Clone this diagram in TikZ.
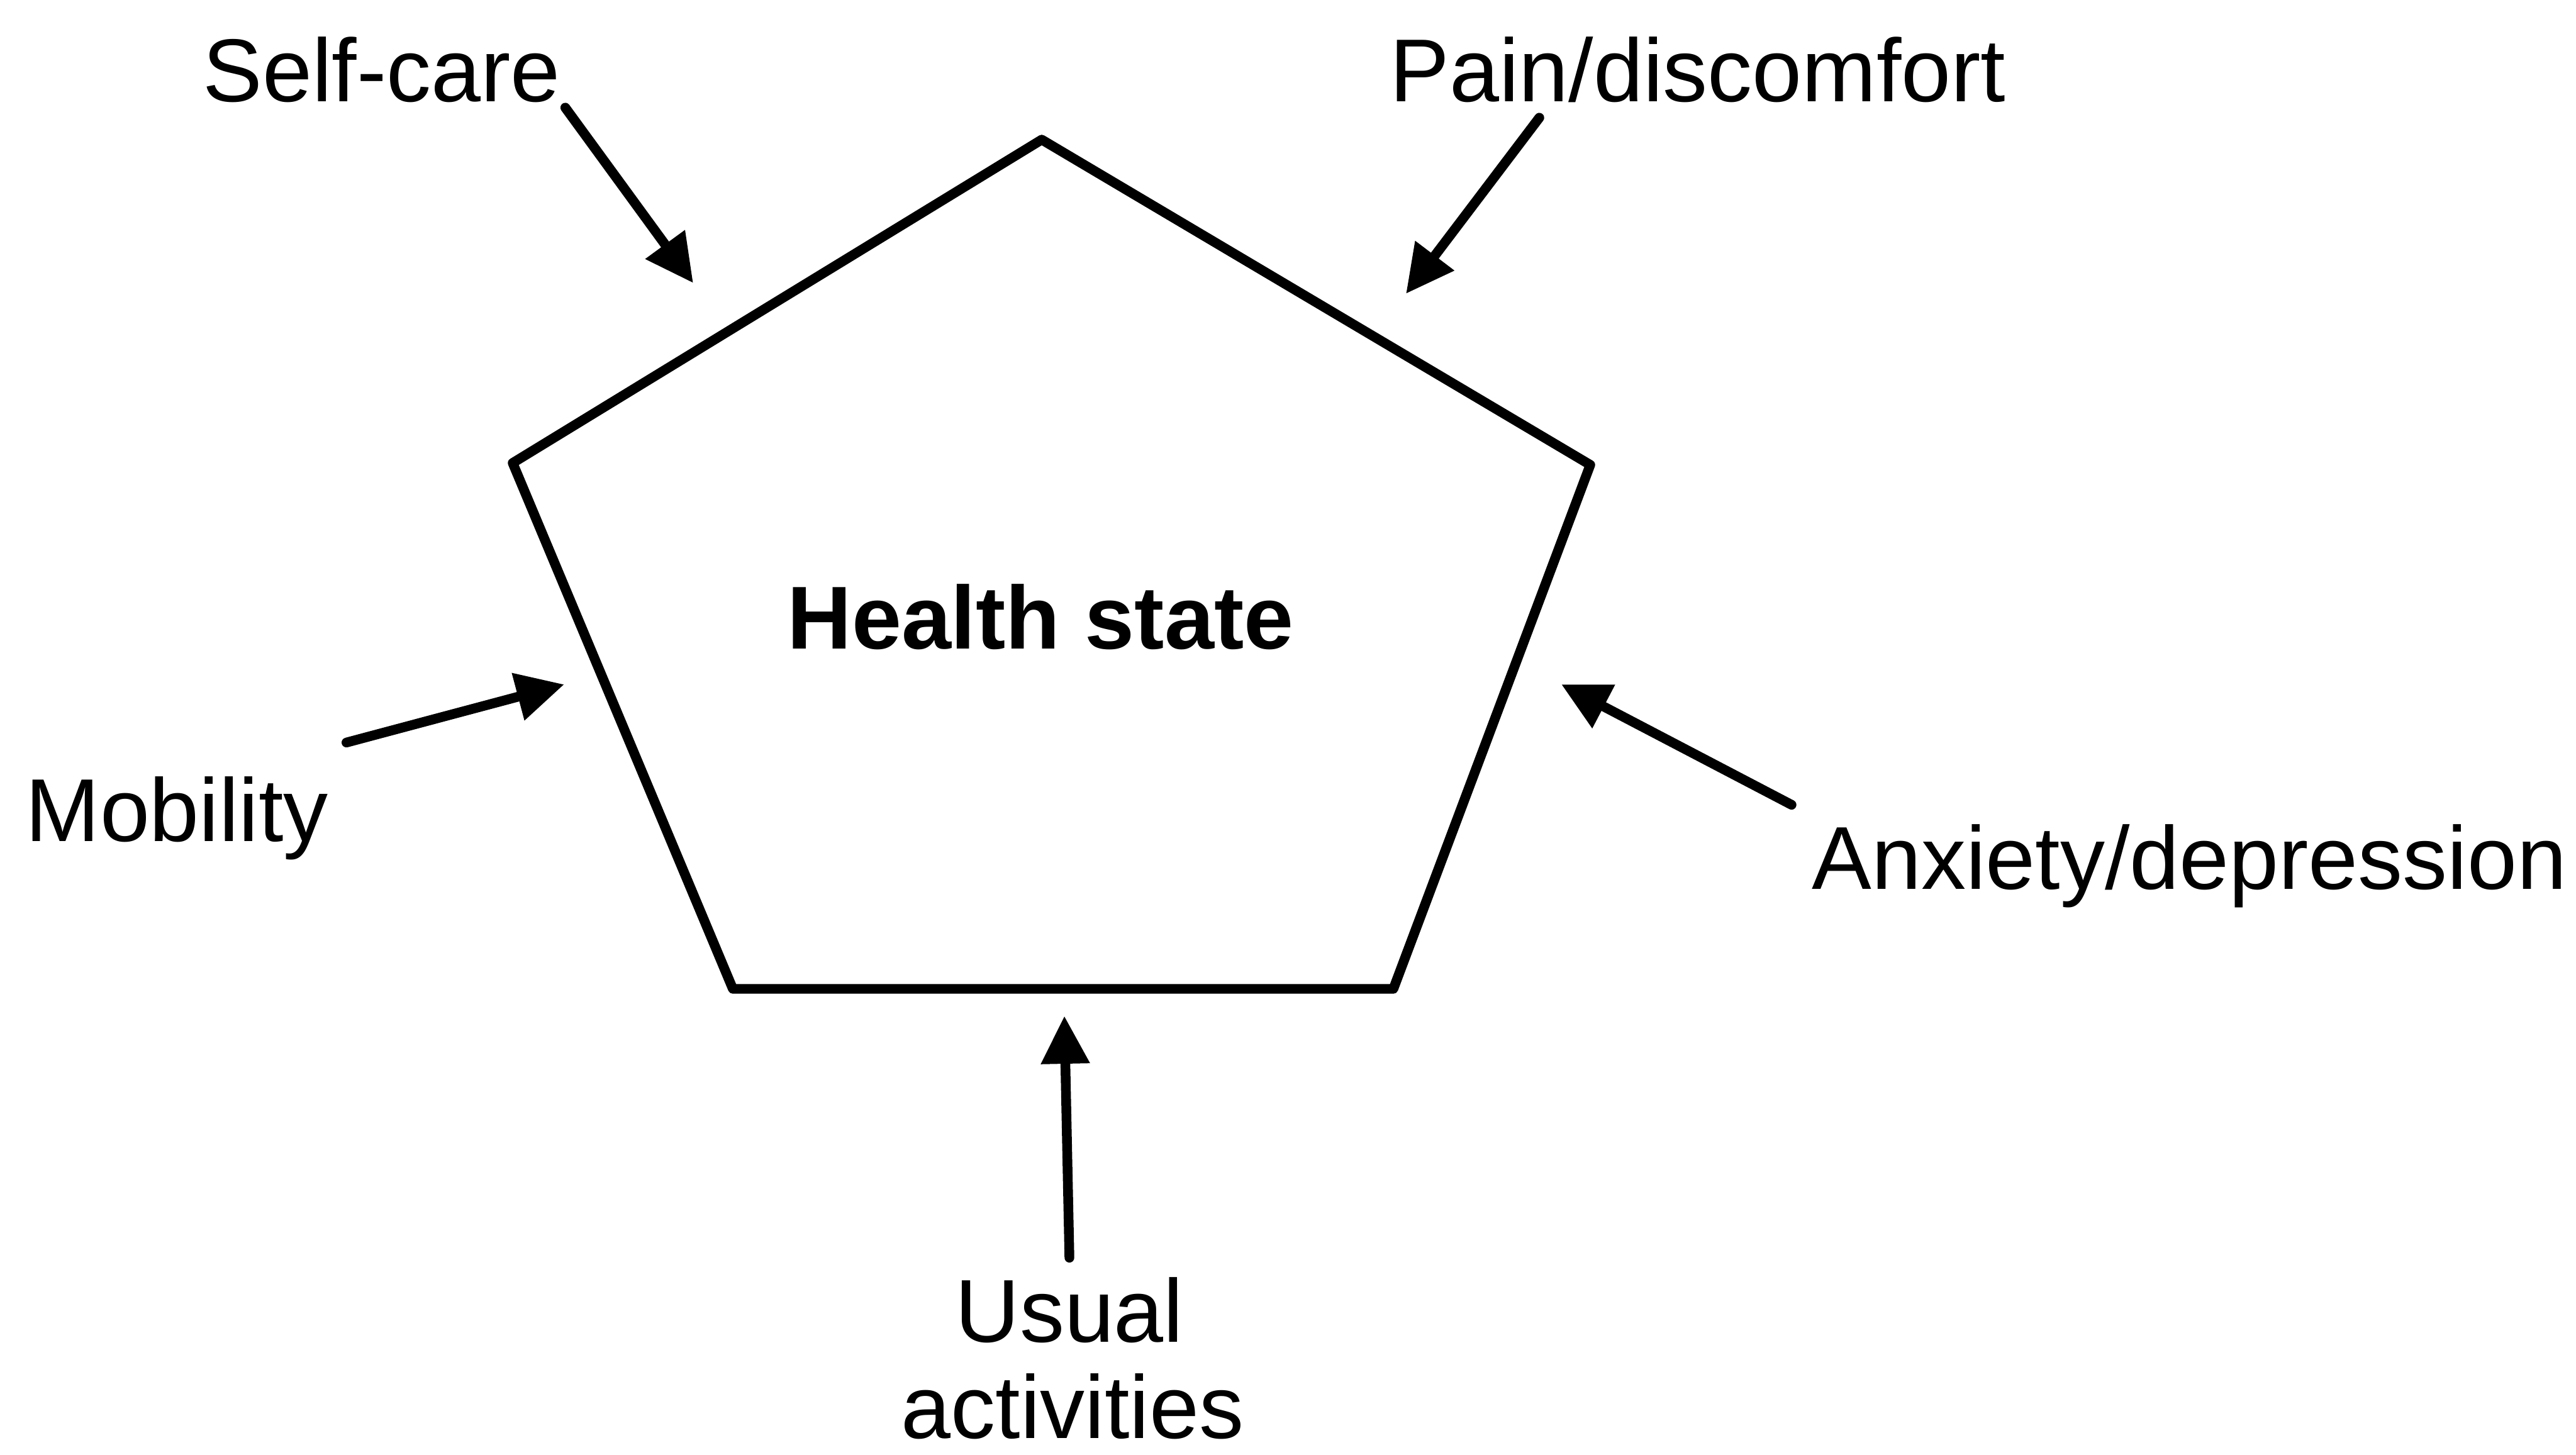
\documentclass[tikz,border=0pt]{standalone}
\usepackage{fontspec}
\setmainfont{Liberation Sans}
\usetikzlibrary{arrows.meta,calc}

\begin{document}
\begin{tikzpicture}[x=1cm,y=-1cm]
	\tikzstyle{every path}=[line width=4.4pt]
	
	\tikzstyle{dimname}=[inner sep=0pt,font=\fontsize{40.4}{48}\selectfont]
	\tikzstyle{feed}=[-{Triangle[length=0.76cm,width=0.74cm]},line cap=round]
	
	\useasboundingbox (0,0) rectangle (40.95,23.13);
	
	%% Draw health state pentagon
	\coordinate (top) at (16.56,2.22);
	\coordinate (upright) at (25.28,7.39);
	\coordinate (lowright) at (22.15,15.72);
	\coordinate (lowleft) at (11.65,15.72);
	\coordinate (upleft) at (8.15,7.36);
	\draw[line join=round] (top) -- (upright) -- (lowright) -- (lowleft) -- (upleft) -- cycle;
	
	\node [dimname,font=\fontsize{40.4}{48}\selectfont\bfseries,anchor=base] (state) at (16.54,10.31) {Health state};
	
	%% Dimensions
	\node [dimname,anchor=base west] (selfcare) at (3.15,1.62) {Self-care};
	\node [dimname,anchor=base west] (pain) at (22.02,1.62) {Pain/discomfort};
	\node [dimname,anchor=base west] (mobility) at (0.33,13.37) {Mobility};
	\node [dimname,anchor=base west] (anxiety) at (28.73,14.13) {Anxiety/depression};
	\node [dimname,anchor=base] (usual) at (17.00,21.33) {Usual};
	\node [dimname,anchor=base] (activities) at (17.05,22.86) {activities};
	
	%% Arrow tips at the pentagon
	\coordinate (selfcare-in) at (11.02,4.50);
	\coordinate (pain-in) at (22.35,4.67);
	\coordinate (mobility-in) at (8.97,10.88);
	\coordinate (anxiety-in) at (24.82,10.88);
	\coordinate (usual-in) at (16.92,16.15);
	
	\draw[feed] (selfcare.south east) -- (selfcare-in);
	\draw[feed] ([shift={(2.45,0.16)}]pain.south west) -- (pain-in);
	\draw[feed] ([shift={(0.21,-0.46)}]mobility.north east) -- (mobility-in);
	\draw[feed] ([shift={(-0.25,-0.23)}]anxiety.north west) -- (anxiety-in);
	\draw[feed] ([yshift=0.23cm]usual.north) -- (usual-in);
	
\end{tikzpicture}
\end{document}
